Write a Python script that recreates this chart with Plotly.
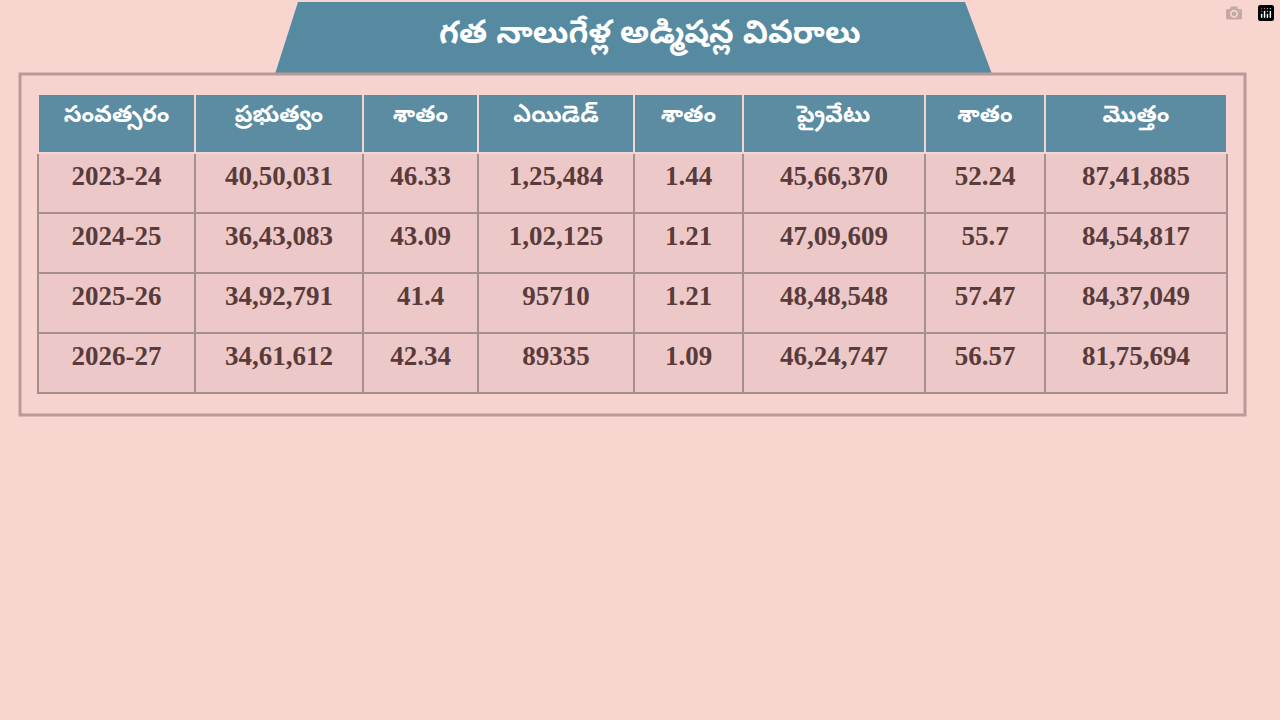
import plotly.graph_objects as go

title = "గత నాలుగేళ్ల అడ్మిషన్ల వివరాలు"
headers = ["సంవత్సరం", "ప్రభుత్వం", "శాతం", "ఎయిడెడ్", "శాతం", "ప్రైవేటు", "శాతం", "మొత్తం"]
years = ["2023-24", "2024-25", "2025-26", "2026-27"]
govt = ["40,50,031", "36,43,083", "34,92,791", "34,61,612"]
govt_pct = ["46.33", "43.09", "41.4", "42.34"]
aided = ["1,25,484", "1,02,125", "95710", "89335"]
aided_pct = ["1.44", "1.21", "1.21", "1.09"]
private = ["45,66,370", "47,09,609", "48,48,548", "46,24,747"]
private_pct = ["52.24", "55.7", "57.47", "56.57"]
total = ["87,41,885", "84,54,817", "84,37,049", "81,75,694"]

W, H = 1280, 720
col_px = [157, 168, 115, 156, 109, 182, 120, 182]


def bold(col):
    return [f"<b>{v}</b>" for v in col]


fig = go.Figure(go.Table(
    domain=dict(x=[38 / W, 1227 / W], y=[0, 1 - 94 / H]),
    columnwidth=col_px,
    header=dict(
        values=bold(headers),
        fill_color="#5b8ca2",
        line_color="#f3d6d2", line_width=2,
        font=dict(family="Noto Sans Telugu, Noto Sans, sans-serif", size=23, color="white"),
        align="center", height=59,
    ),
    cells=dict(
        values=[bold(c) for c in [years, govt, govt_pct, aided, aided_pct, private, private_pct, total]],
        fill_color="#ecc9c8",
        line_color="#a88f8f", line_width=2,
        font=dict(family="Liberation Serif, serif", size=27, color="#5a3b3b"),
        align="center", height=60,
    ),
))

# title banner and frame
fig.add_shape(type="path", xref="paper", yref="paper",
              path=f"M {275/W} {1-74/H} L {298/W} {1-2/H} L {965/W} {1-2/H} L {992/W} {1-74/H} Z",
              fillcolor="#568aa0", line_width=0, layer="below")
fig.add_shape(type="rect", xref="paper", yref="paper",
              x0=20 / W, x1=1245 / W, y0=1 - 415 / H, y1=1 - 74 / H,
              line=dict(color="#b89a98", width=3), fillcolor="#f7d3cf", layer="below")
fig.add_annotation(text=f"<b>{title}</b>", x=650 / W, y=1 - 36 / H, xref="paper", yref="paper",
                   yanchor="middle", xanchor="center", showarrow=False,
                   font=dict(family="Noto Sans Telugu, Noto Sans, sans-serif", size=32, color="white"))

fig.update_layout(
    width=W, height=H, margin=dict(l=0, r=0, t=0, b=0),
    paper_bgcolor="#f9d5d0", plot_bgcolor="#f9d5d0",
)
fig.write_html("out.html", post_script="document.body.style.margin='0';document.body.style.overflow='hidden';")
